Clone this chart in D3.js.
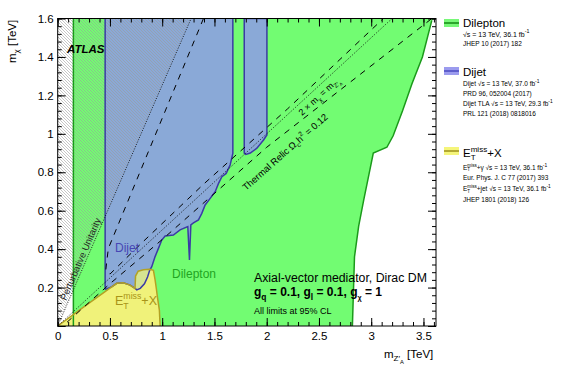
<!DOCTYPE html>
<html>
<head>
<meta charset="utf-8">
<script src="https://cdn.jsdelivr.net/npm/d3@7"></script>
<style>
  body { margin: 0; background: #fff; }
  text { font-family: "Liberation Sans", Arial, sans-serif; white-space: pre; }
</style>
</head>
<body>
<div id="viz"></div>
<script>
// excluded regions, [mZ' TeV, mchi TeV]
const dileptonContour = [[0.15,0],[0.15,1.6],[3.62,1.6],[3.58,1.59],[3.49,1.40],[3.39,1.26],[3.30,1.12],
  [3.21,0.99],[3.15,0.93],[3.02,0.90],[2.975,0.78],[2.93,0.66],[2.88,0.52],[2.84,0.36],[2.82,0]];
const dijetContour = [[0.454,1.6],[1.676,1.6],[1.676,0.898],[1.65,0.838],[1.612,0.794],[1.571,0.777],
  [1.539,0.742],[1.507,0.699],[1.459,0.664],[1.411,0.63],[1.379,0.586],[1.347,0.552],[1.299,0.537],
  [1.274,0.526],[1.261,0.343],[1.245,0.517],[1.171,0.5],[1.107,0.473],[1.028,0.468],[0.996,0.447],
  [0.964,0.404],[0.932,0.361],[0.9,0.309],[0.88,0.29],[0.86,0.255],[0.83,0.22],[0.79,0.196],
  [0.757,0.188],[0.74,0.196],[0.693,0.213],[0.628,0.225],[0.565,0.222],[0.52,0.205],[0.454,0.19]];
const dijetTlaContour = [[1.785,1.6],[2.002,1.6],[2.002,0.994],[1.97,0.968],[1.906,0.925],[1.843,0.9],
  [1.8,0.893],[1.785,0.9]];
const etmissContour = [[0,0],[0.25,0.1],[0.45,0.178],[0.52,0.205],[0.565,0.222],[0.628,0.225],[0.693,0.213],
  [0.74,0.196],[0.745,0.26],[0.77,0.285],[0.82,0.293],[0.88,0.295],[0.916,0.29],[0.932,0.24],
  [0.945,0.19],[0.954,0.152],[0.973,0.083],[0.98,0]];

// reference lines
const unitarityLine = [[0,0],[1.2766,1.6]];
const onShellLine = [[0,0],[3.2,1.6]];
const relicUpper = [[1.395,1.6],[0.485,0.404],[0.469,0.335],[0.46,0.29],[0.5,0.27],[0.8,0.43],[1.4,0.74],[2.2,1.13],[3.116,1.6]];
const relicLower = [[0.09,0.02],[0.5,0.22],[1.0,0.45],[2.0,0.93],[3.58,1.6]];

const xMajor = [0, 0.5, 1, 1.5, 2, 2.5, 3, 3.5];
const yMajor = [0, 0.2, 0.4, 0.6, 0.8, 1, 1.2, 1.4, 1.6];

const colGreen = '#72fc72', lineGreen = '#1b9a1b';
const colBlue = '#8aa9d7', lineBlue = '#3b3ba5';
const colYellow = '#f0f27a', lineYellow = '#b3a224';
const colOverlap = '#d6e491';

const dims = { width: 581, height: 371, left: 57.7, right: 436, top: 18.5, bottom: 326 };

const svg = d3.select('#viz').append('svg')
  .attr('width', dims.width).attr('height', dims.height);

const x = d3.scaleLinear().domain([0, 3.62]).range([dims.left, dims.right]);
const y = d3.scaleLinear().domain([0, 1.6]).range([dims.bottom, dims.top]);

const line = d3.line().x(d => x(d[0])).y(d => y(d[1]));
const closed = d3.line().x(d => x(d[0])).y(d => y(d[1])).curve(d3.curveLinearClosed);

const defs = svg.append('defs');
defs.append('clipPath').attr('id', 'frame')
  .append('rect').attr('x', dims.left).attr('y', dims.top)
  .attr('width', dims.right - dims.left).attr('height', dims.bottom - dims.top);
defs.append('clipPath').attr('id', 'dijetClip')
  .append('path').attr('d', closed(dijetContour));
const pat = defs.append('pattern').attr('id', 'hatch')
  .attr('patternUnits', 'userSpaceOnUse').attr('width', 3).attr('height', 3);
pat.append('path').attr('d', 'M-1,-1 L4,4 M-1,2 L1,4 M2,-1 L4,1')
  .attr('stroke', '#9a9a9a').attr('stroke-width', 0.7);

const plot = svg.append('g').attr('clip-path', 'url(#frame)');

// fills
plot.append('path').attr('d', closed(dileptonContour)).attr('fill', colGreen);
plot.append('path').attr('d', closed(dijetContour)).attr('fill', colBlue);
plot.append('path').attr('d', closed(dijetTlaContour)).attr('fill', colBlue);
plot.append('path').attr('d', closed(etmissContour)).attr('fill', colYellow);
plot.append('path').attr('d', closed(etmissContour)).attr('fill', colOverlap)
  .attr('clip-path', 'url(#dijetClip)');

// perturbative unitarity hatching
plot.append('path')
  .attr('d', closed([[0,0],[1.2766,1.6],[0,1.6]]))
  .attr('fill', 'url(#hatch)').attr('opacity', 0.8);

// outlines
plot.append('path').attr('d', line(dileptonContour.slice(0, 2))).attr('fill', 'none')
  .attr('stroke', lineGreen).attr('stroke-width', 1.5);
plot.append('path').attr('d', line(dileptonContour.slice(3))).attr('fill', 'none')
  .attr('stroke', lineGreen).attr('stroke-width', 1.5);
plot.append('path').attr('d', line([dijetContour[dijetContour.length - 1], dijetContour[0]]))
  .attr('fill', 'none').attr('stroke', lineBlue).attr('stroke-width', 1.5);
plot.append('path').attr('d', line(dijetContour.slice(1))).attr('fill', 'none')
  .attr('stroke', lineBlue).attr('stroke-width', 1.5);
plot.append('path').attr('d', closed(dijetTlaContour)).attr('fill', 'none')
  .attr('stroke', lineBlue).attr('stroke-width', 1.5);
plot.append('path').attr('d', line(etmissContour)).attr('fill', 'none')
  .attr('stroke', lineYellow).attr('stroke-width', 1.5);

// reference lines
plot.append('path').attr('d', line(unitarityLine)).attr('fill', 'none')
  .attr('stroke', '#000').attr('stroke-width', 0.8).attr('stroke-dasharray', '1,1.5');
plot.append('path').attr('d', line(onShellLine)).attr('fill', 'none')
  .attr('stroke', '#000').attr('stroke-width', 0.8).attr('stroke-dasharray', '1,1.5');
[relicUpper, relicLower].forEach(l => {
  plot.append('path').attr('d', line(l)).attr('fill', 'none')
    .attr('stroke', '#000').attr('stroke-width', 1).attr('stroke-dasharray', '6,6');
});

// axes, ticks pointing inwards on all four sides
const fmt = d => String(+d.toFixed(1));
const xMinor = d3.range(0, 3.62, 0.1);
const yMinor = d3.range(0, 1.601, 0.04);

svg.append('g').attr('transform', `translate(0,${dims.bottom})`)
  .call(d3.axisBottom(x).tickValues(xMinor).tickSize(-4).tickFormat(''));
svg.append('g').attr('transform', `translate(0,${dims.bottom})`)
  .call(d3.axisBottom(x).tickValues(xMajor).tickSize(-8).tickPadding(6).tickFormat(fmt));
svg.append('g').attr('transform', `translate(0,${dims.top})`)
  .call(d3.axisTop(x).tickValues(xMinor).tickSize(-4).tickFormat(''));
svg.append('g').attr('transform', `translate(0,${dims.top})`)
  .call(d3.axisTop(x).tickValues(xMajor).tickSize(-8).tickFormat(''));
svg.append('g').attr('transform', `translate(${dims.left},0)`)
  .call(d3.axisLeft(y).tickValues(yMinor).tickSize(-4).tickFormat(''));
svg.append('g').attr('transform', `translate(${dims.left},0)`)
  .call(d3.axisLeft(y).tickValues(yMajor).tickSize(-8).tickPadding(4)
    .tickFormat(d => d === 0 ? '' : fmt(d)));
svg.append('g').attr('transform', `translate(${dims.right},0)`)
  .call(d3.axisRight(y).tickValues(yMinor).tickSize(-4).tickFormat(''));
svg.append('g').attr('transform', `translate(${dims.right},0)`)
  .call(d3.axisRight(y).tickValues(yMajor).tickSize(-8).tickFormat(''));

svg.selectAll('.domain').remove();
svg.selectAll('.tick line').attr('stroke', '#000');
svg.selectAll('.tick text').attr('font-size', 11.5).attr('fill', '#000')
  .attr('font-family', '"Liberation Sans", Arial, sans-serif');

svg.append('rect').attr('x', dims.left).attr('y', dims.top)
  .attr('width', dims.right - dims.left).attr('height', dims.bottom - dims.top)
  .attr('fill', 'none').attr('stroke', '#000').attr('stroke-width', 1);

// text built from pieces; piece {t, s: size scale, dy: offset in em, hold: next piece starts at same x}
function rich(parent, transform, pieces, size, fill, weight) {
  const g = parent.append('g').attr('transform', transform);
  let cx = 0, held = 0;
  pieces.forEach(p => {
    const t = g.append('text').attr('x', cx).attr('y', (p.dy || 0) * size)
      .attr('font-size', size * (p.s || 1)).attr('fill', fill || '#000')
      .attr('font-weight', weight || 'normal').text(p.t);
    const w = t.node().getComputedTextLength();
    if (p.hold) held = w;
    else { cx += Math.max(w, held); held = 0; }
  });
  return g;
}
const sub = (t, s) => ({ t, s: s || 0.7, dy: 0.3 });
const sup = (t, s) => ({ t, s: s || 0.7, dy: -0.45 });
const etMiss = [{ t: 'E' }, { t: 'miss', s: 0.7, dy: -0.45, hold: true }, { t: 'T', s: 0.7, dy: 0.3 }];

// axis titles
rich(svg, 'translate(16,63) rotate(-90)', [{ t: 'm' }, sub('χ'), { t: ' [TeV]' }], 11.5);
rich(svg, 'translate(384,358)', [{ t: 'm' }, sub('Z\u2032'), { t: 'A', s: 0.5, dy: 0.5 }, { t: ' [TeV]' }], 11.5);

// labels inside the plot
svg.append('text').attr('x', 67).attr('y', 53).attr('font-size', 11.5)
  .attr('font-weight', 'bold').attr('font-style', 'italic').text('ATLAS');

svg.append('text').attr('transform', `translate(66,301) rotate(-66.6)`)
  .attr('font-size', 9.5).attr('fill', '#222').text('Perturbative Unitarity');

rich(svg, 'translate(302,116) rotate(-42.6)',
  [{ t: '2 × m' }, sub('χ'), { t: ' = m' }, sub('Z\u2032'), { t: 'A', s: 0.5, dy: 0.5 }], 9);

rich(svg, 'translate(246,191) rotate(-41.5)',
  [{ t: 'Thermal Relic Ω' }, sub('c'), { t: 'h' }, sup('2'), { t: ' = 0.12' }], 9.5);

svg.append('text').attr('x', 115).attr('y', 252).attr('font-size', 12)
  .attr('fill', '#4646b4').text('Dijet');
svg.append('text').attr('x', 172).attr('y', 278).attr('font-size', 12)
  .attr('fill', '#22a522').text('Dilepton');
rich(svg, 'translate(115,305)', etMiss.concat([{ t: '+X' }]), 12.5, '#a89418');

svg.append('text').attr('x', 254).attr('y', 282).attr('font-size', 12.3)
  .text('Axial-vector mediator, Dirac DM');
rich(svg, 'translate(254,296)', [{ t: 'g' }, sub('q'), { t: ' = 0.1, g' }, sub('l'),
  { t: ' = 0.1, g' }, sub('χ', 0.6), { t: ' = 1' }], 12, '#000', 'bold');
svg.append('text').attr('x', 254).attr('y', 314).attr('font-size', 9).text('All limits at 95% CL');

// legend
const legend = svg.append('g');
function swatch(yTop, fill, stroke) {
  legend.append('rect').attr('x', 444).attr('y', yTop).attr('width', 15).attr('height', 8)
    .attr('fill', fill);
  legend.append('line').attr('x1', 444).attr('x2', 459).attr('y1', yTop + 4).attr('y2', yTop + 4)
    .attr('stroke', stroke).attr('stroke-width', 1.5);
}
swatch(19, '#77f877', '#138a13');
swatch(67, '#9b9bee', '#4a4ac0');
swatch(147, '#f5f57a', '#9c8f1c');

const invFb = { t: '-1', s: 0.75, dy: -0.45 };
legend.append('text').attr('x', 463).attr('y', 27).attr('font-size', 11.5).text('Dilepton');
rich(legend, 'translate(463,36.5)', [{ t: '√s = 13 TeV, 36.1 fb' }, invFb], 7);
legend.append('text').attr('x', 463).attr('y', 46).attr('font-size', 6.5).text('JHEP 10 (2017) 182');

legend.append('text').attr('x', 463).attr('y', 76).attr('font-size', 11.5).text('Dijet');
rich(legend, 'translate(463,86)', [{ t: 'Dijet √s = 13 TeV, 37.0 fb' }, invFb], 6.5);
legend.append('text').attr('x', 463).attr('y', 95.5).attr('font-size', 6.5).text('PRD 96, 052004 (2017)');
rich(legend, 'translate(463,105.5)', [{ t: 'Dijet TLA √s = 13 TeV, 29.3 fb' }, invFb], 6.5);
legend.append('text').attr('x', 463).attr('y', 115.5).attr('font-size', 6.5).text('PRL 121 (2018) 0818016');

rich(legend, 'translate(463,157)', etMiss.concat([{ t: '+X' }]), 11.5);
rich(legend, 'translate(463,169.5)', etMiss.concat([{ t: '+γ √s = 13 TeV, 36.1 fb' }, invFb]), 6.5);
legend.append('text').attr('x', 463).attr('y', 180).attr('font-size', 6.5).text('Eur. Phys. J. C 77 (2017) 393');
rich(legend, 'translate(463,191)', etMiss.concat([{ t: '+jet √s = 13 TeV, 36.1 fb' }, invFb]), 6.5);
legend.append('text').attr('x', 463).attr('y', 202).attr('font-size', 6.5).text('JHEP 1801 (2018) 126');
</script>
</body>
</html>
